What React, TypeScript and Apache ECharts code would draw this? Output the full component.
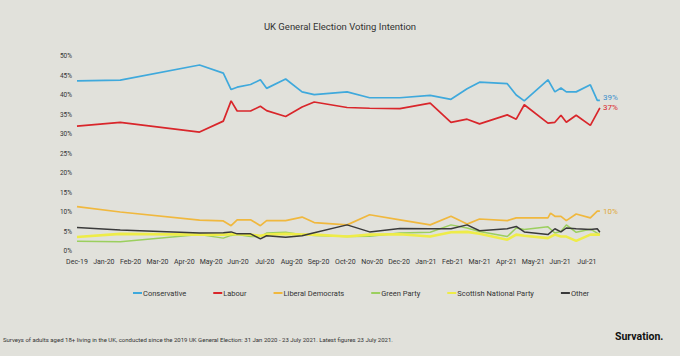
import React, { useEffect, useRef } from "react";
import * as echarts from "echarts";

const monthLabels = [
  "Dec-19", "Jan-20", "Feb-20", "Mar-20", "Apr-20", "May-20", "Jun-20", "Jul-20",
  "Aug-20", "Sep-20", "Oct-20", "Nov-20", "Dec-20", "Jan-21", "Feb-21", "Mar-21",
  "Apr-21", "May-21", "Jun-21", "Jul-21",
];

const pollDates = [
  "2019-12-12", "2020-01-31", "2020-04-29", "2020-05-26", "2020-06-04", "2020-06-11",
  "2020-06-26", "2020-07-07", "2020-07-14", "2020-08-05", "2020-08-24", "2020-09-07",
  "2020-10-14", "2020-11-09", "2020-12-13", "2021-01-17", "2021-02-10", "2021-02-27",
  "2021-03-12", "2021-04-13", "2021-04-23", "2021-05-02", "2021-05-29", "2021-06-01",
  "2021-06-06", "2021-06-13", "2021-06-19", "2021-06-30", "2021-07-16", "2021-07-24",
  "2021-07-27",
];

const conservative = [43.6, 43.8, 47.7, 45.6, 41.4, 42.0, 42.7, 43.9, 41.7, 44.1, 40.8, 40.1, 40.8, 39.3, 39.3, 39.9, 38.9, 41.6, 43.3, 42.9, 40.0, 38.5, 43.9, null, 40.8, 41.8, 40.8, 40.8, 42.6, 38.6, 38.6];
const labour = [32.0, 33.0, 30.5, 33.3, 38.5, 35.9, 35.9, 37.1, 36.0, 34.5, 36.9, 38.2, 36.8, 36.6, 36.5, 37.9, 33.0, 33.8, 32.6, 34.9, 33.8, 37.5, 32.8, null, 33.0, 34.8, 33.0, 34.8, 32.2, null, 36.7];
const libDems = [11.4, 10.0, 7.9, 7.7, 6.5, 8.0, 8.0, 6.5, 7.8, 7.8, 8.7, 7.3, 6.7, 9.3, 8.0, 6.7, 8.9, 6.9, 8.2, 7.8, 8.5, 8.5, 8.5, 9.7, 8.9, 8.9, 7.8, 9.5, 8.5, 10.2, 10.2];
const greens = [2.5, 2.4, 4.2, 3.3, 4.0, 4.2, 3.7, 3.7, 4.6, 4.8, 4.2, 4.0, 3.7, 3.8, 4.6, 4.8, 6.7, 5.9, 5.0, 3.7, 5.9, 5.5, 6.2, null, 4.6, 5.0, 6.7, 4.8, 5.6, null, 4.2];
const snp = [3.6, 4.4, 4.2, 4.2, 4.3, 4.3, 4.2, 3.9, 4.2, 4.4, 4.2, 4.2, 3.7, 4.2, 4.3, 3.7, 4.8, 4.9, 4.4, 2.9, 4.2, 3.9, 3.3, null, 4.2, 3.7, 3.7, 2.6, 4.2, null, 4.2];
const other = [6.0, 5.4, 4.6, 4.7, 4.9, 4.4, 4.4, 3.1, 3.9, 3.5, 3.9, 4.7, 6.7, 4.9, 5.8, 5.7, 5.7, 6.7, 5.2, 5.7, 6.3, 4.9, 4.2, null, 5.7, 4.9, 5.9, 5.7, 5.5, 5.7, 4.8];

const seriesNames = ["Conservative", "Labour", "Liberal Democrats", "Green Party", "Scottish National Party", "Other"];
const seriesValues = [conservative, labour, libDems, greens, snp, other];
const seriesColors = ["#3fa9dc", "#d9262b", "#f0b83e", "#9bcf5e", "#eeec48", "#3a3a3a"];
const seriesWidths = [1.7, 1.7, 1.7, 1.5, 2.6, 1.5];
const endLabelColors = ["#3b8fcc", "#d9262b", "#e0a836", "", "", ""];

const BG = "#e1e1db";
const FONT = "Roboto, 'Noto Sans', sans-serif";

// Axis ticks are placed on the 12th of each month (counting from 12 Dec 2019)
function toAxis(s: string): number {
  const [y, m, d] = s.split("-").map(Number);
  let k = (y - 2019) * 12 + (m - 12);
  if (d < 12) k -= 1;
  const t = Date.UTC(y, m - 1, d);
  const start = Date.UTC(2019, 11 + k, 12);
  const end = Date.UTC(2019, 12 + k, 12);
  return k + (t - start) / (end - start);
}

export default function App() {
  const ref = useRef<HTMLDivElement>(null);
  useEffect(() => {
    if (!ref.current) return;
    const chart = echarts.init(ref.current, null, { renderer: "svg" });
    const xs = pollDates.map(toAxis);
    chart.setOption({
      animation: false,
      backgroundColor: BG,
      textStyle: { fontFamily: FONT },
      title: {
        text: "UK General Election Voting Intention",
        left: "center",
        top: 16,
        textStyle: { fontSize: 9.5, fontWeight: "normal", color: "#333", fontFamily: FONT },
      },
      legend: {
        left: 128,
        top: 284,
        itemWidth: 9,
        itemHeight: 2,
        itemGap: 27,
        icon: "rect",
        data: seriesNames,
        textStyle: { fontSize: 7.5, color: "#333", padding: [0, 0, 0, -4], fontFamily: FONT },
      },
      grid: { left: 77, right: 77, top: 56, bottom: 105, containLabel: false },
      xAxis: {
        type: "value",
        min: 0,
        max: 19.6,
        interval: 1,
        axisLine: { show: false },
        axisTick: { show: false },
        splitLine: { show: false },
        axisLabel: {
          fontSize: 7,
          color: "#333",
          margin: 7,
          showMaxLabel: false,
          formatter: (v: number) => (Number.isInteger(v) && monthLabels[v] ? monthLabels[v] : ""),
        },
      },
      yAxis: {
        type: "value",
        min: 0,
        max: 50,
        interval: 5,
        axisLine: { show: false },
        axisTick: { show: false },
        splitLine: { show: false },
        axisLabel: { fontSize: 6.5, color: "#333", margin: 5, formatter: "{value}%" },
      },
      series: seriesNames.map((name, si) => ({
        name,
        type: "line",
        symbol: "none",
        connectNulls: true,
        z: 2 + si,
        color: seriesColors[si],
        lineStyle: { color: seriesColors[si], width: seriesWidths[si] },
        data: xs.map((x, i) => [x, seriesValues[si][i] == null ? "-" : seriesValues[si][i]]),
        endLabel: endLabelColors[si]
          ? {
              show: true,
              distance: 3,
              offset: si === 0 ? [0, -3] : [0, 0],
              color: endLabelColors[si],
              fontSize: 8,
              fontFamily: FONT,
              formatter: (p: any) => Math.round(p.value[1]) + "%",
            }
          : { show: false },
      })),
      graphic: [
        {
          type: "text",
          left: 3,
          top: 336,
          style: {
            text:
              "Surveys of adults aged 18+ living in the UK, conducted since the 2019 UK General Election: 31 Jan 2020 - 23 July 2021. Latest figures 23 July 2021.",
            fontSize: 6,
            fill: "#333",
            fontFamily: FONT,
          },
        },
        {
          type: "text",
          left: 615,
          top: 331,
          style: {
            text: "Survation.",
            fontSize: 10.5,
            fontWeight: "bold",
            fill: "#111",
            fontFamily: "Roboto, sans-serif",
          },
        },
      ],
    });
    return () => chart.dispose();
  }, []);
  return (
    <div
      ref={ref}
      style={{ position: "fixed", left: 0, top: 0, width: 680, height: 356, background: BG }}
    />
  );
}
